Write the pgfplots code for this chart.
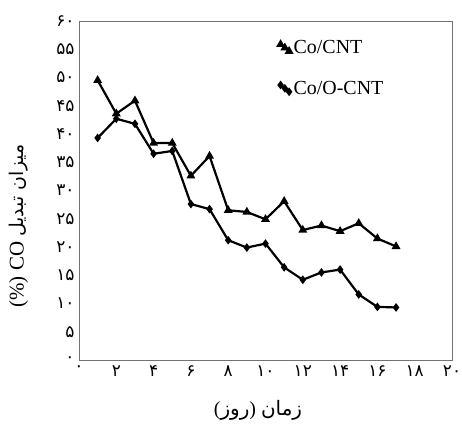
\documentclass[border=0pt]{standalone}
\usepackage{fontspec}
\setmainfont{Liberation Serif}
\newfontfamily\arabicfont[Script=Arabic]{DejaVu Sans}
\usepackage{pgfplots}
\pgfplotsset{compat=1.18}
\TeXXeTstate=1

% conversion (%) over time (days)
\pgfplotstableread{
x y
1 49.5
2 43.6
3 45.9
4 38.4
5 38.4
6 32.6
7 36.1
8 26.5
9 26.2
10 24.9
11 28.1
12 23.0
13 23.8
14 22.8
15 24.2
16 21.5
17 20.1
}\cocnt
\pgfplotstableread{
x y
1 39.3
2 42.7
3 41.8
4 36.5
5 37.0
6 27.6
7 26.7
8 21.2
9 19.9
10 20.6
11 16.4
12 14.2
13 15.5
14 16.0
15 11.6
16 9.4
17 9.3
}\coocnt

\begin{document}
\begin{tikzpicture}
\useasboundingbox (-79bp,-70bp) rectangle (383bp,360bp);
\begin{axis}[
    at={(0,0)}, anchor=south west,
    scale only axis,
    width=373bp, height=339bp,
    xmin=0, xmax=20, ymin=0, ymax=60,
    xtick={0,2,...,20},
    xticklabels={۰,۲,۴,۶,۸,۱۰,۱۲,۱۴,۱۶,۱۸,۲۰},
    ytick={0,5,...,60},
    yticklabels={۰,۵,۱۰,۱۵,۲۰,۲۵,۳۰,۳۵,۴۰,۴۵,۵۰,۵۵,۶۰},
    major tick length=0pt,
    axis line style={draw=black!55, line width=0.8pt},
    ticklabel style={font=\arabicfont\fontsize{17}{17}\selectfont},
    xticklabel style={yshift=-2pt},
    yticklabel style={xshift=-1pt},
    xlabel={\fontsize{20}{21}\selectfont ({\arabicfont\beginR روز\endR}) {\arabicfont\beginR زمان\endR}},
    xlabel style={at={(axis description cs:0.48,-0.148)}, anchor=center},
    ylabel={\fontsize{21}{22}\selectfont (\%) CO \arabicfont\fontsize{19}{20}\selectfont\beginR میزان تبدیل\endR},
    ylabel style={at={(axis description cs:-0.162,0.395)}, anchor=center},
    legend style={draw=none, fill=none, at={(0.525,0.955)}, anchor=north west,
        font=\fontsize{20}{22}\selectfont, row sep=22pt},
    legend cell align=left,
    legend image code/.code={\draw[#1] plot coordinates {(0cm,0.12cm) (0.15cm,0cm) (0.3cm,-0.12cm)};},
]
\addplot[black, line width=2.2pt, mark=triangle*, mark size=3pt] table {\cocnt};
\addlegendentry{Co/CNT}
\addplot[black, line width=2.2pt, mark=diamond*, mark size=2.6pt] table {\coocnt};
\addlegendentry{Co/O-CNT}
\end{axis}
\end{tikzpicture}
\end{document}
